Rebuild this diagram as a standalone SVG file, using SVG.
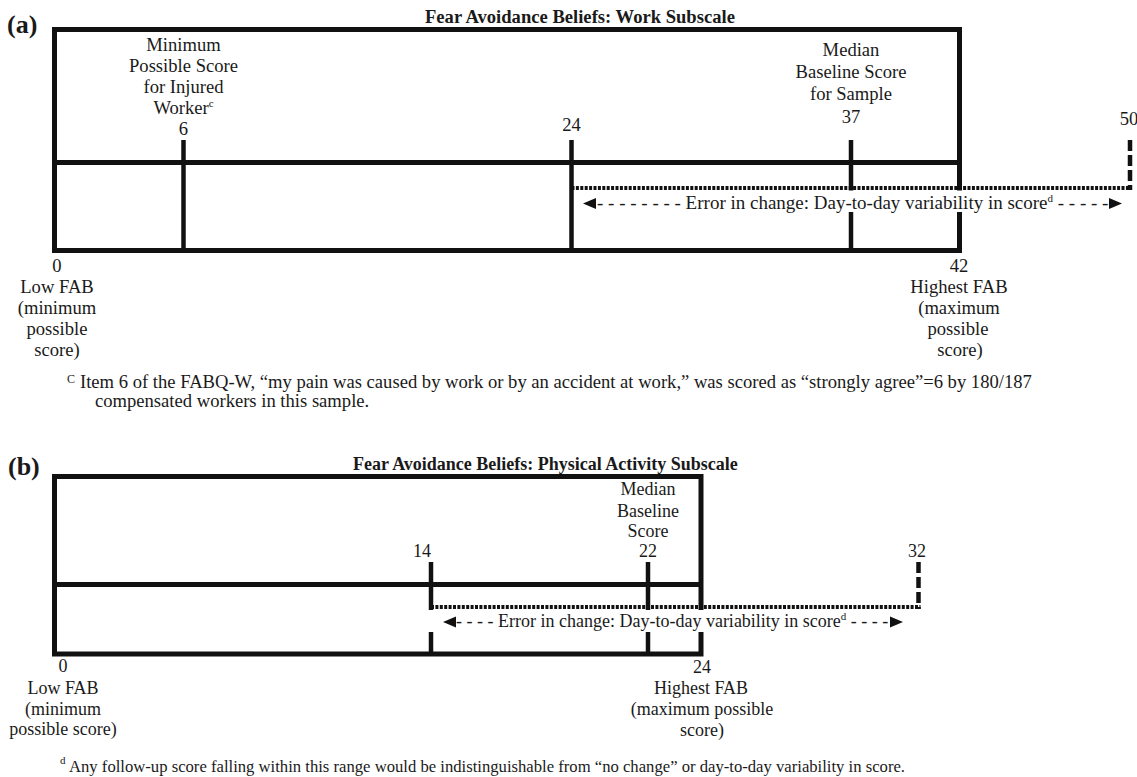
<svg xmlns="http://www.w3.org/2000/svg" width="1137" height="777" viewBox="0 0 1137 777">
<style>
text{font-family:"Liberation Serif","Times New Roman",serif;fill:#1a1a1a}
.a{font-size:18.6px}
.b{font-size:18px}
.t{font-weight:bold}
.m{text-anchor:middle}
.pl{font-size:26px;font-weight:bold}
.box{fill:none;stroke:#111;stroke-width:5}
.ln{stroke:#111;stroke-width:5;fill:none}
.tk{stroke:#111;stroke-width:4.5}
.dot{stroke:#111;stroke-width:4;stroke-dasharray:3 1.4;fill:none}
.dash{stroke:#111;stroke-width:4.5;stroke-dasharray:11 4}
.sup{font-size:11px}
.bg{fill:#fff}
.ah{fill:#111}
</style>
<rect width="1137" height="777" fill="#fff"/>

<!-- Panel (a) -->
<g id="panel-a">
  <text class="pl" x="7" y="33">(a)</text>
  <text class="t" x="425" y="22.5" style="font-size:18.6px">Fear Avoidance Beliefs: Work Subscale</text>
  <g id="scale-a">
    <rect class="box" x="54.5" y="29.5" width="905" height="221"/>
    <line class="ln" x1="54.5" y1="162.5" x2="959.5" y2="162.5"/>
  </g>
  <g id="tick-a6">
    <line class="tk" x1="183.5" y1="140" x2="183.5" y2="250.5"/>
    <text class="a m" x="183.5" y="51">Minimum</text>
    <text class="a m" x="183.5" y="72">Possible Score</text>
    <text class="a m" x="183.5" y="93">for Injured</text>
    <text class="a m" x="183.5" y="114">Worker<tspan class="sup" dy="-7">c</tspan></text>
    <text class="a m" x="183.5" y="135">6</text>
  </g>
  <g id="tick-a24">
    <line class="tk" x1="571.5" y1="140" x2="571.5" y2="250.5"/>
    <text class="a m" x="571.5" y="131">24</text>
  </g>
  <g id="tick-a37">
    <line class="tk" x1="851" y1="140" x2="851" y2="250.5"/>
    <text class="a m" x="851" y="56">Median</text>
    <text class="a m" x="851" y="78">Baseline Score</text>
    <text class="a m" x="851" y="100">for Sample</text>
    <text class="a m" x="851" y="122.5">37</text>
  </g>
  <g id="label-a0">
    <text class="a m" x="57" y="272">0</text>
    <text class="a m" x="57" y="293">Low FAB</text>
    <text class="a m" x="57" y="314">(minimum</text>
    <text class="a m" x="57" y="335">possible</text>
    <text class="a m" x="57" y="356">score)</text>
  </g>
  <g id="label-a42">
    <text class="a m" x="959" y="272">42</text>
    <text class="a m" x="959" y="293">Highest FAB</text>
    <text class="a m" x="959" y="314">(maximum</text>
    <text class="a m" x="958" y="335">possible</text>
    <text class="a m" x="960" y="356">score)</text>
  </g>
  <g id="label-a50">
    <text class="a m" x="1129" y="125">50</text>
  </g>
  <g id="footnote-c">
    <text x="67" y="383" style="font-size:12px">C</text>
    <text class="a" x="80" y="388">Item 6 of the FABQ-W, “my pain was caused by work or by an accident at work,” was scored as “strongly agree”=6 by 180/187</text>
    <text class="a" x="95" y="407">compensated workers in this sample.</text>
  </g>
</g>

<!-- Panel (b) -->
<g id="panel-b">
  <text class="pl" x="8" y="475">(b)</text>
  <text class="t" x="353" y="470" style="font-size:18px">Fear Avoidance Beliefs: Physical Activity Subscale</text>
  <g id="scale-b">
    <rect class="box" x="54.5" y="476.5" width="646.5" height="177.5"/>
    <line class="ln" x1="54.5" y1="584.5" x2="701" y2="584.5"/>
  </g>
  <g id="tick-b14">
    <line class="tk" x1="431" y1="562" x2="431" y2="654"/>
    <text class="b m" x="422" y="557">14</text>
  </g>
  <g id="tick-b22">
    <line class="tk" x1="648" y1="562" x2="648" y2="654"/>
    <text class="b m" x="648" y="495">Median</text>
    <text class="b m" x="648" y="517">Baseline</text>
    <text class="b m" x="648" y="537">Score</text>
    <text class="b m" x="648" y="557">22</text>
  </g>
  <g id="label-b0">
    <text class="b m" x="63" y="672">0</text>
    <text class="b m" x="63" y="694">Low FAB</text>
    <text class="b m" x="63" y="715">(minimum</text>
    <text class="b m" x="63" y="735">possible score)</text>
  </g>
  <g id="label-b24">
    <text class="b m" x="702" y="673">24</text>
    <text class="b m" x="701" y="694">Highest FAB</text>
    <text class="b m" x="702" y="715">(maximum possible</text>
    <text class="b m" x="702" y="736">score)</text>
  </g>
  <g id="label-b32">
    <text class="b m" x="917" y="557">32</text>
  </g>
  <g id="footnote-d">
    <text x="60" y="764" style="font-size:11px">d</text>
    <text x="69" y="772" style="font-size:17.5px" textLength="836" lengthAdjust="spacingAndGlyphs">Any follow-up score falling within this range would be indistinguishable from “no change” or day-to-day variability in score.</text>
  </g>
</g>

<!-- Connectors: error ranges -->
<g id="connectors">
  <rect class="bg" x="577" y="190.5" width="548" height="21.5"/>
  <line class="dot" x1="571.5" y1="188" x2="1132" y2="188"/>
  <line class="dash" x1="1130" y1="140" x2="1130" y2="190"/>
  <polygon class="ah" points="583,203.5 596,198 596,209"/>
  <text x="597" y="209" style="font-size:19px">- - - - - - - - Error in change: Day-to-day variability in score<tspan class="sup" dy="-7">d</tspan><tspan dy="7"> - - - - -</tspan></text>
  <polygon class="ah" points="1122,203.5 1109,198 1109,209"/>

  <rect class="bg" x="427" y="610" width="486" height="22"/>
  <line class="dot" x1="431" y1="607" x2="920.5" y2="607"/>
  <line class="dash" x1="918.5" y1="562" x2="918.5" y2="609"/>
  <polygon class="ah" points="443,622 456,616.5 456,627.5"/>
  <text class="b" x="456" y="627">- - - - Error in change: Day-to-day variability in score<tspan class="sup" dy="-7">d</tspan><tspan dy="7"> - - - -</tspan></text>
  <polygon class="ah" points="903,622 890,616.5 890,627.5"/>
</g>
</svg>
